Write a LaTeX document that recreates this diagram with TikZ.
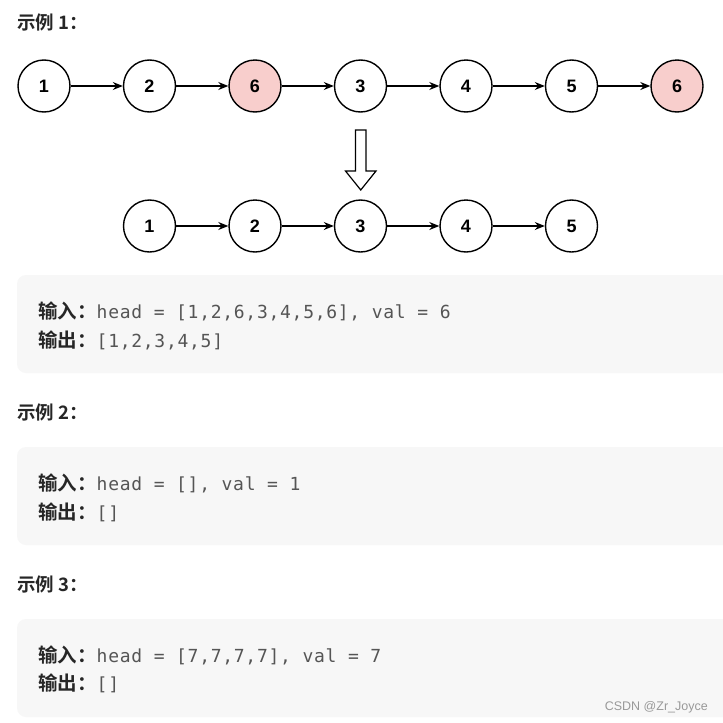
\documentclass[tikz,border=0pt]{standalone}
\usepackage{fontspec}
\setmainfont{Liberation Sans}
\newfontfamily\cjk{Noto Sans CJK SC}[BoldFont={Noto Sans CJK SC Bold}]
\newfontfamily\codefont{DejaVu Sans Mono}[LetterSpace=4]
\usetikzlibrary{arrows.meta}
\definecolor{boxgray}{HTML}{F7F7F7}
\definecolor{codegray}{HTML}{555555}
\definecolor{pinkfill}{HTML}{F8CECC}
\definecolor{headtext}{HTML}{262626}
\begin{document}
\begin{tikzpicture}[x=1pt,y=-1pt,
  listnode/.style={circle,draw=black,line width=1.4pt,minimum size=52pt,inner sep=0pt,fill=white,
    font=\fontsize{18}{18}\selectfont\bfseries},
  removed/.style={listnode,fill=pinkfill},
  link/.style={line width=1.2pt,-{Stealth[length=10pt,width=8pt]}},
  heading/.style={anchor=west,inner sep=0pt,text=headtext,font=\cjk\fontsize{18.5}{18.5}\selectfont\bfseries},
  codebox/.style={fill=boxgray,rounded corners=9pt},
  codeline/.style={anchor=west,inner sep=0pt,text=headtext,font=\fontsize{18}{18}\selectfont},
  label/.style={font=\cjk\fontsize{19.5}{19.5}\selectfont\bfseries}
]
\useasboundingbox (0,0) rectangle (723,723);
\fill[white] (0,0) rectangle (723,723);

% Example 1 heading
\node[heading] (h1) at (17,22) {示例 1：};

% top list
\node[listnode] (a1) at (44,86) {1};
\node[listnode] (a2) at (149.5,86) {2};
\node[removed] (a3) at (255,86) {6};
\node[listnode] (a4) at (360.5,86) {3};
\node[listnode] (a5) at (466,86) {4};
\node[listnode] (a6) at (571.5,86) {5};
\node[removed] (a7) at (677,86) {6};
\foreach \i/\j in {a1/a2,a2/a3,a3/a4,a4/a5,a5/a6,a6/a7}
  \draw[link] (\i) -- (\j);

% hollow arrow
\draw[line width=1.2pt,fill=white,line join=miter]
  (355.5,130) -- (366,130) -- (366,171) -- (376,171) -- (360.75,190) -- (345.5,171) -- (355.5,171) -- cycle;

% bottom list
\node[listnode] (b1) at (149.5,226) {1};
\node[listnode] (b2) at (255,226) {2};
\node[listnode] (b3) at (360.5,226) {3};
\node[listnode] (b4) at (466,226) {4};
\node[listnode] (b5) at (571.5,226) {5};
\foreach \i/\j in {b1/b2,b2/b3,b3/b4,b4/b5}
  \draw[link] (\i) -- (\j);

% code box 1
\fill[codebox] (17,275) rectangle (745,373);
\node[codeline] (in1) at (38,311) {{\cjk\fontsize{19.5}{19.5}\selectfont\bfseries 输入：}\textcolor{codegray}{\codefont head = [1,2,6,3,4,5,6], val = 6}};
\node[codeline] (out1) at (38,340) {{\cjk\fontsize{19.5}{19.5}\selectfont\bfseries 输出：}\textcolor{codegray}{\codefont [1,2,3,4,5]}};

% Example 2
\node[heading] (h2) at (17,412) {示例 2：};
\fill[codebox] (17,447) rectangle (745,545);
\node[codeline] (in2) at (38,483) {{\cjk\fontsize{19.5}{19.5}\selectfont\bfseries 输入：}\textcolor{codegray}{\codefont head = [], val = 1}};
\node[codeline] (out2) at (38,512) {{\cjk\fontsize{19.5}{19.5}\selectfont\bfseries 输出：}\textcolor{codegray}{\codefont []}};

% Example 3
\node[heading] (h3) at (17,584) {示例 3：};
\fill[codebox] (17,619) rectangle (745,717);
\node[codeline] (in3) at (38,655) {{\cjk\fontsize{19.5}{19.5}\selectfont\bfseries 输入：}\textcolor{codegray}{\codefont head = [7,7,7,7], val = 7}};
\node[codeline] (out3) at (38,683) {{\cjk\fontsize{19.5}{19.5}\selectfont\bfseries 输出：}\textcolor{codegray}{\codefont []}};

% watermark
\node[anchor=east,inner sep=0pt,text=black!40,font=\fontsize{12.5}{12.5}\selectfont] (wm) at (708,707) {CSDN @Zr\_Joyce};
\end{tikzpicture}
\end{document}
